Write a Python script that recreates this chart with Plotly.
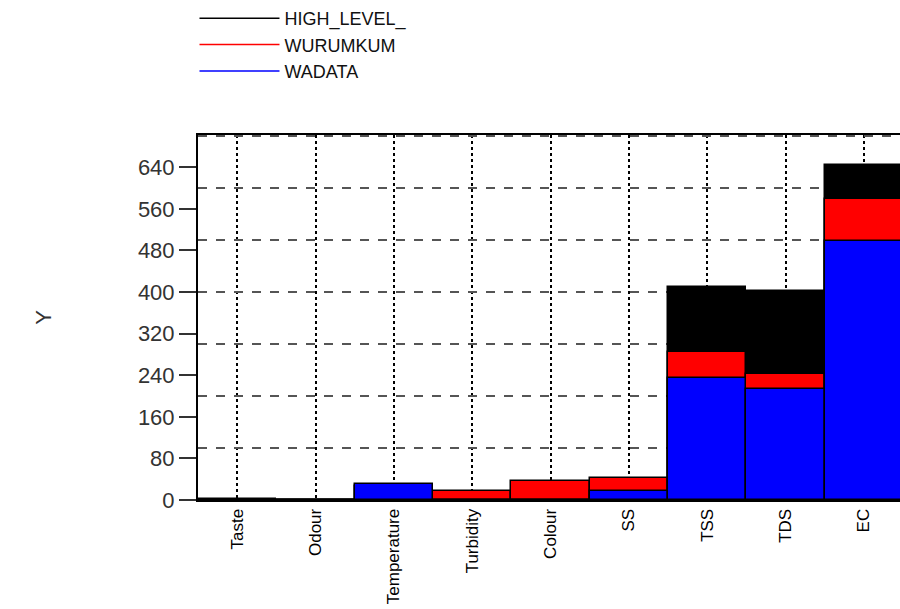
import plotly.graph_objects as go

categories = ["Taste", "Odour", "Temperature", "Turbidity", "Colour", "SS", "TSS", "TDS", "EC"]
high_level = [1, 0, 0, 5, 0, 0, 410, 402, 644]
wurumkum = [0, 0, 27, 17, 36, 42, 285, 242, 579]
wadata = [0, 0, 30, 0, 0, 18, 234, 214, 498]
y_ticks = [0, 80, 160, 240, 320, 400, 480, 560, 640]

series = [("HIGH_LEVEL_", high_level, "#000000"),
          ("WURUMKUM", wurumkum, "#ff0000"),
          ("WADATA", wadata, "#0000ff")]

fig = go.Figure()
for name, vals, col in series:
    fig.add_trace(go.Bar(x=categories, y=vals, name=name, marker_color=col,
                         marker_line=dict(color="#000000", width=1.5),
                         width=1, showlegend=False))
for name, vals, col in series:
    fig.add_trace(go.Scatter(x=[None], y=[None], name=name, mode="lines",
                             line=dict(color=col, width=1.5), yaxis="y2"))

fig.update_layout(
    width=900, height=609,
    margin=dict(l=198, r=0, t=130, b=109),
    barmode="overlay", bargap=0,
    plot_bgcolor="white", paper_bgcolor="white",
    font=dict(family="Liberation Sans, Arial, sans-serif", color="#000"),
    legend=dict(x=-0.005, y=1.37, xanchor="left", yanchor="top",
                font=dict(size=18, color="#111"), itemwidth=80,
                bgcolor="rgba(0,0,0,0)", tracegroupgap=0),
    xaxis=dict(range=[-0.5, 8.46], showline=True, linecolor="#000", linewidth=2,
               mirror=True, showgrid=True, gridcolor="#000", griddash="dot",
               gridwidth=2, tickangle=-90, tickfont=dict(size=17, color="#000"),
               ticks="", zeroline=False),
    yaxis=dict(range=[0, 702], tickvals=y_ticks, showline=True, linecolor="#000",
               linewidth=2, showgrid=False, ticks="outside", ticklen=17,
               tickwidth=1.5, tickcolor="#333", tickfont=dict(size=22, color="#333"),
               zeroline=False, title=dict(text="Y", font=dict(size=22, color="#333"),
                                          standoff=80), automargin=False),
    yaxis2=dict(range=[0, 702], overlaying="y", side="left", dtick=100, tick0=0,
                showgrid=True, gridcolor="#555", griddash="dash", gridwidth=1.5,
                showticklabels=False, ticks="", showline=False, zeroline=False),
)
fig.write_html("out.html", config={"displayModeBar": False},
               post_script="document.body.style.margin='0';document.body.style.overflow='hidden';")
